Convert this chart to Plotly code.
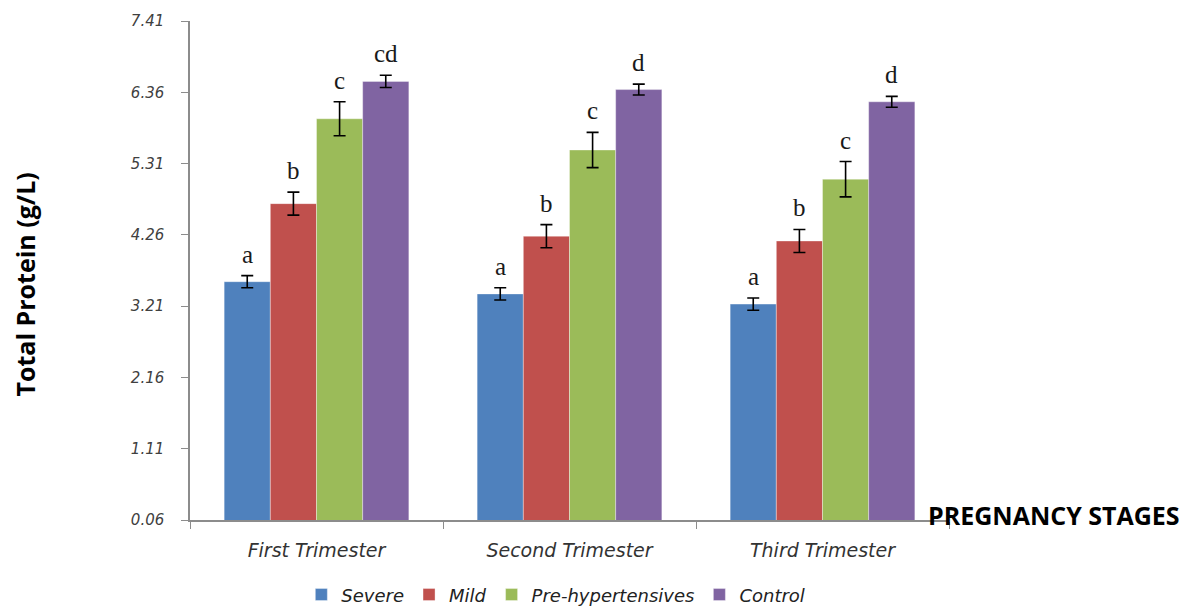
import plotly.graph_objects as go

stages = ["First Trimester", "Second Trimester", "Third Trimester"]
groups = ["Severe", "Mild", "Pre-hypertensives", "Control"]
colors = ["#4F81BD", "#C0504D", "#9BBB59", "#8064A2"]

severe = [3.57, 3.39, 3.24]
mild = [4.72, 4.24, 4.17]
pre_hyp = [5.97, 5.51, 5.08]
control = [6.52, 6.40, 6.22]

severe_err = [0.09, 0.09, 0.09]
mild_err = [0.17, 0.17, 0.17]
pre_hyp_err = [0.25, 0.26, 0.26]
control_err = [0.09, 0.08, 0.08]

severe_lbl = ["a", "a", "a"]
mild_lbl = ["b", "b", "b"]
pre_hyp_lbl = ["c", "c", "c"]
control_lbl = ["cd", "d", "d"]

y_ticks = [0.06, 1.11, 2.16, 3.21, 4.26, 5.31, 6.36, 7.41]

values = [severe, mild, pre_hyp, control]
errors = [severe_err, mild_err, pre_hyp_err, control_err]
letters = [severe_lbl, mild_lbl, pre_hyp_lbl, control_lbl]

bargap = 0.27
fig = go.Figure()
for name, col, vals, errs in zip(groups, colors, values, errors):
    fig.add_trace(go.Bar(
        name=name, x=stages, y=vals,
        marker=dict(color=col, line=dict(color="rgba(255,255,255,0.6)", width=0.6)),
        error_y=dict(type="data", array=errs, color="black", thickness=1.6, width=6),
    ))

# significance letters above each error bar
bar_w = (1 - bargap) / len(groups)
for gi, (vals, errs, lbls) in enumerate(zip(values, errors, letters)):
    off = -(1 - bargap) / 2 + bar_w * (gi + 0.5)
    for si in range(len(stages)):
        fig.add_annotation(
            x=si + off, y=vals[si] + errs[si], xref="x", yref="y",
            text=lbls[si], showarrow=False, yanchor="bottom", yshift=6,
            font=dict(family="Liberation Serif", size=25, color="#1a1a1a"),
        )

fig.add_annotation(
    x=1.0, y=0.06, xref="paper", yref="y", xanchor="left", yanchor="middle",
    xshift=-23, yshift=5, text="<b>PREGNANCY STAGES</b>", showarrow=False,
    font=dict(family="Open Sans", size=25, color="black"),
)

# y-axis title, placed slightly below the plot's vertical centre
fig.add_annotation(
    x=-0.2174, y=0.472, xref="paper", yref="paper", xanchor="center", yanchor="middle",
    text="<b>Total Protein (g/L)</b>", textangle=-90, showarrow=False,
    font=dict(family="Open Sans", size=25, color="black"),
)

fig.update_layout(
    barmode="group", bargap=bargap, bargroupgap=0,
    width=1187, height=609, plot_bgcolor="white", paper_bgcolor="white",
    margin=dict(l=190, r=238, t=21, b=89, autoexpand=False),
    font=dict(family="DejaVu Sans"),
    legend=dict(orientation="h", x=0.482, xanchor="center", y=-0.15, yanchor="middle",
                font=dict(family="DejaVu Sans", size=18, color="#222222", style="italic"),
                itemwidth=30, traceorder="normal"),
)
fig.update_yaxes(
    range=[0.06, 7.41], tickvals=y_ticks, ticktext=[f"{v:.2f}" for v in y_ticks],
    showgrid=False, zeroline=False, showline=True, linecolor="#8c8c8c", linewidth=1.5,
    ticks="outside", ticklen=7, tickcolor="#8c8c8c", ticklabelstandoff=14,
    tickfont=dict(family="DejaVu Sans", size=15, color="#404040", style="italic"),
)
fig.update_xaxes(
    showgrid=False, showline=True, linecolor="#8c8c8c", linewidth=1.5,
    ticks="outside", tickson="boundaries", ticklen=7, tickcolor="#8c8c8c",
    ticklabelstandoff=12,
    tickfont=dict(family="DejaVu Sans", size=19, color="#333333", style="italic"),
)

fig.write_html("out.html")
